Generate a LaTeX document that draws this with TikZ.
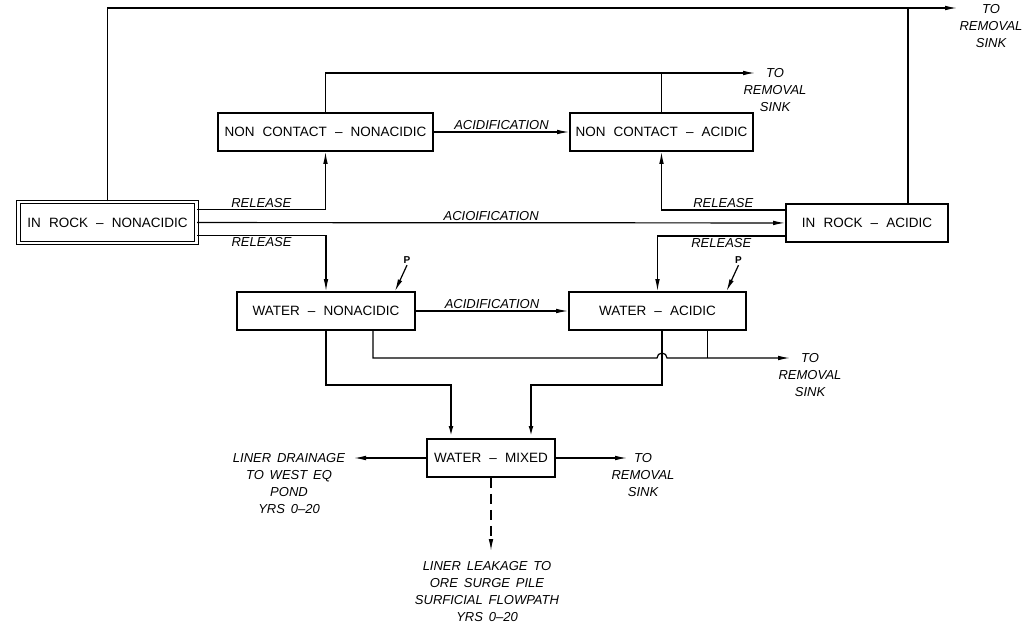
\documentclass[tikz,border=0pt]{standalone}
\usepackage{fontspec}
\setmainfont{Liberation Sans}
\usepackage{tikz}
\usetikzlibrary{positioning,arrows.meta}

\begin{document}
\begin{tikzpicture}[x=1pt,y=-1pt,
    >={Latex[length=12pt,width=4.6pt]},
    box/.style={draw, line width=1.7pt, minimum height=38pt, inner sep=0pt,
      font={\fontsize{13.5}{15}\selectfont\spaceskip=0.6em\relax}},
    lbl/.style={inner sep=1.5pt, font={\fontsize{13}{17}\selectfont\itshape\spaceskip=0.45em\relax}},
    sink/.style={lbl, align=center, anchor=north, inner sep=0pt},
    flow/.style={line width=1.2pt},
    mainflow/.style={line width=2pt}]
        \useasboundingbox (0,0) rectangle (1029,624);

        % compartments
        \node[box, double, double distance=2.2pt, line width=1.2pt, minimum width=178pt, minimum height=41pt] (rockN) at (107.5,222.5) {IN ROCK -- NONACIDIC};
        \node[box, minimum width=215pt] (ncN) at (325.5,132) {NON CONTACT -- NONACIDIC};
        \node[box, minimum width=183pt] (ncA) at (661.5,132) {NON CONTACT -- ACIDIC};
        \node[box, minimum width=162pt] (rockA) at (867,223) {IN ROCK -- ACIDIC};
        \node[box, minimum width=178pt] (watN) at (326,311) {WATER -- NONACIDIC};
        \node[box, minimum width=177pt] (watA) at (657.5,311) {WATER -- ACIDIC};
        \node[box, minimum width=128pt] (mix) at (491,458) {WATER -- MIXED};

        % loose ends
        \coordinate (sinkT) at (957,8);
        \coordinate (topR) at (908,8);
        \coordinate (sinkNC) at (755,73);
        \coordinate (hop) at (657,358);
        \coordinate (sinkW) at (790,358);
        \coordinate (drain) at (354,458);
        \coordinate (sinkM) at (627,458);
        \coordinate (leak) at (491,551);

        % to removal sink, top
        \draw[flow,->] (rockN.north) |- (sinkT);
        \draw[flow] ([xshift=41pt]rockA.north) -- (topR);
        \node[sink] (lblT) at (991,4) {TO\\REMOVAL\\SINK};

        % non contact
        \draw[flow,->] (ncN.north) |- (sinkNC);
        \draw[flow] (ncA.north) -- (ncA.north |- sinkNC);
        \node[sink] (lblNC) at (775,68) {TO\\REMOVAL\\SINK};
        \draw[flow,->] (ncN) -- node[lbl, above] {ACIDIFICATION} (ncA);

        % release and acidification from rock
        \draw[flow,->] ([yshift=13pt]rockN.east) -| node[lbl, above, pos=0.25] {RELEASE} (ncN.south);
        \draw[flow,->] ([yshift=-13pt]rockN.east) -| node[lbl, below, pos=0.25] {RELEASE} (watN.north);
        \draw[flow,->] (rockN) -- node[lbl, above] {ACIOIFICATION} (rockA);
        \draw[flow,->] ([yshift=13pt]rockA.west) -| node[lbl, above, pos=0.25] {RELEASE} (ncA.south);
        \draw[flow,->] ([yshift=-13pt]rockA.west) -| node[lbl, below, pos=0.25] {RELEASE} (watA.north);

        % water
        \draw[flow,->] (watN) -- node[lbl, above] {ACIDIFICATION} (watA);
        \draw[flow,<-] ([xshift=69pt]watN.north) -- ++(12,-26) node[above, inner sep=1pt, font=\fontsize{10}{11}\selectfont\bfseries] (pN) {P};
        \draw[flow,<-] ([xshift=69pt]watA.north) -- ++(12,-26) node[above, inner sep=1pt, font=\fontsize{10}{11}\selectfont\bfseries] (pA) {P};

        \draw[flow,->] ([xshift=47pt]watN.south) |- (hop) arc[start angle=180, end angle=0, radius=5pt] -- (sinkW);
        \draw[flow] ([xshift=50pt]watA.south) -- ([xshift=50pt]watA.south |- sinkW);
        \node[sink] (lblW) at (810,353) {TO\\REMOVAL\\SINK};

        \draw[mainflow,->] (watN.south) -- ++(0,54) -| ([xshift=-40pt]mix.north);
        \draw[mainflow,->] ([xshift=4.5pt]watA.south) -- ++(0,54) -| ([xshift=40pt]mix.north);

        % out of mixed
        \draw[flow,->] (mix) -- (drain);
        \draw[flow,->] (mix) -- (sinkM);
        \draw[flow,->,dash pattern=on 10pt off 6pt] (mix) -- (leak);
        \node[sink] (lblD) at (289,453) {LINER DRAINAGE\\TO WEST EQ\\POND\\YRS 0--20};
        \node[sink] (lblM) at (643,453) {TO\\REMOVAL\\SINK};
        \node[sink] (lblL) at (487,561) {LINER LEAKAGE TO\\ORE SURGE PILE\\SURFICIAL FLOWPATH\\YRS 0--20};
    \end{tikzpicture}
\end{document}
